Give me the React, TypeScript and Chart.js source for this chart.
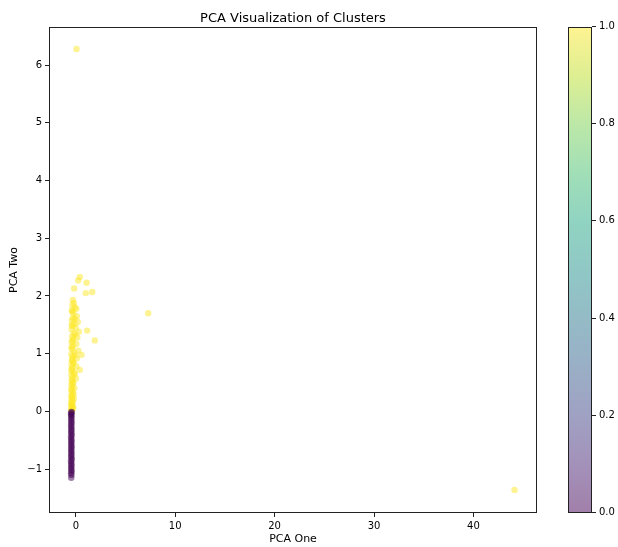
import React, { useEffect, useRef } from "react";
import { Chart, registerables } from "chart.js";

Chart.register(...registerables);

const chartTitle = "PCA Visualization of Clusters";
const xAxisLabel = "PCA One";
const yAxisLabel = "PCA Two";
const xTicks = [0, 10, 20, 30, 40];
const yTicks = [-1, 0, 1, 2, 3, 4, 5, 6];
const colorbarTicks = [0.0, 0.2, 0.4, 0.6, 0.8, 1.0];
const xRange = [-2.7, 46.4];
const yRange = [-1.76, 6.66];

// viridis colormap stops (value, colour)
const viridisStops: [number, string][] = [
  [0.0, "68,1,84"],
  [0.1, "72,36,117"],
  [0.2, "65,68,135"],
  [0.3, "53,95,141"],
  [0.4, "42,120,142"],
  [0.5, "33,145,140"],
  [0.6, "34,168,132"],
  [0.7, "68,191,112"],
  [0.8, "122,209,81"],
  [0.9, "189,223,38"],
  [1.0, "253,231,37"],
];
const pointAlpha = 0.5;

// cluster 0 (purple)
const clusterZeroX = [
  -0.46, -0.44, -0.48, -0.42, -0.45, -0.47, -0.43, -0.46, -0.44, -0.49,
  -0.41, -0.45, -0.47, -0.43, -0.46, -0.44, -0.48, -0.42, -0.45, -0.47,
  -0.43, -0.46, -0.44, -0.49, -0.41, -0.45, -0.47, -0.43, -0.46, -0.44,
  -0.48, -0.42, -0.45, -0.47, -0.43, -0.46, -0.44, -0.49, -0.41, -0.45,
];
const clusterZeroY = [
  -1.15, -1.1, -1.07, -1.04, -1.01, -0.98, -0.95, -0.92, -0.89, -0.86,
  -0.83, -0.8, -0.77, -0.74, -0.71, -0.68, -0.65, -0.62, -0.59, -0.56,
  -0.53, -0.5, -0.47, -0.44, -0.41, -0.38, -0.35, -0.32, -0.29, -0.26,
  -0.23, -0.2, -0.17, -0.14, -0.11, -0.08, -0.06, -0.04, -0.02, -0.01,
];

// cluster 1 (yellow)
const clusterOneX = [
  0.07, 7.28, 44.14, 0.4, 0.23, 1.08, -0.17, 1.0, 1.65, 1.14, 1.91, 0.4, 0.57,
  -0.3, -0.2, -0.35, -0.1, 0.05, -0.4, -0.25, 0.1, -0.3, -0.4,
  0.2, -0.15, -0.35, 0.0, -0.42, 0.3, -0.2, -0.38, 0.15, -0.28,
  -0.42, 0.05, -0.3, -0.4, 0.25, -0.15, -0.45, -0.32, 0.1, -0.4,
  -0.22, -0.44, 0.05, -0.35, -0.42, -0.18, -0.45, -0.3, 0.0, -0.42,
  -0.25, -0.45, -0.35, -0.15, -0.44, -0.3, -0.46, -0.38, -0.2, -0.45,
  -0.33, -0.46, -0.4, -0.28, -0.46, -0.38, -0.44,
  -0.36, -0.12, -0.41, -0.05, -0.33, -0.43, -0.08, -0.37, -0.26, -0.44,
  -0.1, -0.39, -0.31, -0.45, -0.22, -0.41, -0.36, -0.44, -0.27, -0.43,
];
const clusterOneY = [
  6.28, 1.7, -1.36, 2.33, 2.27, 2.23, 2.13, 2.05, 2.07, 1.4, 1.23, 0.72, 0.98,
  1.93, 1.88, 1.84, 1.8, 1.78, 1.75, 1.7, 1.65, 1.62, 1.58,
  1.55, 1.52, 1.48, 1.45, 1.42, 1.38, 1.35, 1.3, 1.28, 1.25,
  1.2, 1.17, 1.13, 1.08, 1.05, 1.02, 0.99, 0.95, 0.92, 0.88,
  0.85, 0.81, 0.78, 0.75, 0.7, 0.67, 0.63, 0.6, 0.57, 0.53,
  0.5, 0.46, 0.42, 0.4, 0.36, 0.32, 0.28, 0.25, 0.22, 0.19,
  0.16, 0.13, 0.1, 0.08, 0.05, 0.03, 0.01,
  1.73, 1.6, 1.5, 1.33, 1.22, 1.11, 0.97, 0.9, 0.83, 0.73,
  0.65, 0.55, 0.48, 0.38, 0.3, 0.24, 0.17, 0.11, 0.06, 0.02,
];

const FONT = '"DejaVu Sans", sans-serif';

const fmtTick = (v: number) => (v < 0 ? "\u2212" + Math.abs(v) : String(v));

const decorPlugin = {
  id: "decor",
  afterDraw(chart: any) {
    const { ctx, chartArea: a } = chart;
    ctx.save();
    // title
    ctx.fillStyle = "#000";
    ctx.font = `13px ${FONT}`;
    ctx.textAlign = "center";
    ctx.textBaseline = "alphabetic";
    ctx.fillText(chartTitle, (a.left + a.right) / 2, 22);
    // frame
    ctx.strokeStyle = "#222";
    ctx.lineWidth = 1;
    ctx.strokeRect(Math.round(a.left) + 0.5, Math.round(a.top) + 0.5, Math.round(a.right - a.left) - 1, Math.round(a.bottom - a.top) - 1);
    // colorbar
    const cbL = 568;
    const cbR = 592;
    const cbT = Math.round(a.top);
    const cbB = Math.round(a.bottom);
    ctx.fillStyle = "#fff";
    ctx.fillRect(cbL, cbT, cbR - cbL, cbB - cbT);
    const g = ctx.createLinearGradient(0, cbB, 0, cbT);
    viridisStops.forEach(([s, c]) => g.addColorStop(s, `rgba(${c},${pointAlpha})`));
    ctx.fillStyle = g;
    ctx.fillRect(cbL, cbT, cbR - cbL, cbB - cbT);
    ctx.strokeStyle = "#222";
    ctx.strokeRect(cbL + 0.5, cbT + 0.5, cbR - cbL - 1, cbB - cbT - 1);
    ctx.font = `10px ${FONT}`;
    ctx.textAlign = "left";
    ctx.textBaseline = "middle";
    ctx.fillStyle = "#000";
    colorbarTicks.forEach((t) => {
      const y = Math.round(cbB - t * (cbB - cbT)) - 0.5;
      ctx.beginPath();
      ctx.moveTo(cbR, y);
      ctx.lineTo(cbR + 4, y);
      ctx.stroke();
      ctx.fillText(t.toFixed(1), cbR + 7, y);
    });
    ctx.restore();
  },
};

export default function App() {
  const ref = useRef<HTMLCanvasElement>(null);
  useEffect(() => {
    if (!ref.current) return;
    const purple = `rgba(${viridisStops[0][1]},${pointAlpha})`;
    const yellow = `rgba(${viridisStops[viridisStops.length - 1][1]},${pointAlpha})`;
    const chart = new Chart(ref.current, {
      type: "scatter",
      data: {
        datasets: [
          {
            data: clusterZeroX.map((x, i) => ({ x, y: clusterZeroY[i] })),
            backgroundColor: purple,
            borderWidth: 0,
            pointRadius: 3.2,
          },
          {
            data: clusterOneX.map((x, i) => ({ x, y: clusterOneY[i] })),
            backgroundColor: yellow,
            borderWidth: 0,
            pointRadius: 3.2,
          },
        ],
      },
      options: {
        responsive: false,
        animation: false,
        devicePixelRatio: 1,
        layout: { padding: { top: 27, right: 81, left: 0, bottom: 0 } },
        plugins: {
          legend: { display: false },
          tooltip: { enabled: false },
          title: { display: false },
        },
        scales: {
          x: {
            type: "linear",
            min: xRange[0],
            max: xRange[1],
            afterBuildTicks: (s: any) => {
              s.ticks = xTicks.map((v) => ({ value: v }));
            },
            afterFit: (s: any) => {
              s.height = 34;
            },
            ticks: { color: "#000", font: { family: FONT, size: 10 }, padding: 3, callback: (v: any) => fmtTick(Number(v)) },
            grid: { display: true, drawOnChartArea: false, drawTicks: true, tickLength: 4, color: "#222" },
            border: { display: false },
            title: { display: true, text: xAxisLabel, color: "#000", font: { family: FONT, size: 11 }, padding: { top: 0, bottom: 1 } },
          },
          y: {
            type: "linear",
            min: yRange[0],
            max: yRange[1],
            afterBuildTicks: (s: any) => {
              s.ticks = yTicks.map((v) => ({ value: v }));
            },
            afterFit: (s: any) => {
              s.width = 49;
            },
            ticks: { color: "#000", font: { family: FONT, size: 10 }, padding: 3, callback: (v: any) => fmtTick(Number(v)) },
            grid: { display: true, drawOnChartArea: false, drawTicks: true, tickLength: 4, color: "#222" },
            border: { display: false },
            title: { display: true, text: yAxisLabel, color: "#000", font: { family: FONT, size: 11 }, padding: { top: 8, bottom: 0 } },
          },
        },
      },
      plugins: [decorPlugin],
    } as any);
    return () => chart.destroy();
  }, []);
  return (
    <div style={{ position: "absolute", left: 0, top: 0, width: 618, height: 547, background: "#fff" }}>
      <canvas ref={ref} width={618} height={547} style={{ display: "block" }} />
    </div>
  );
}
